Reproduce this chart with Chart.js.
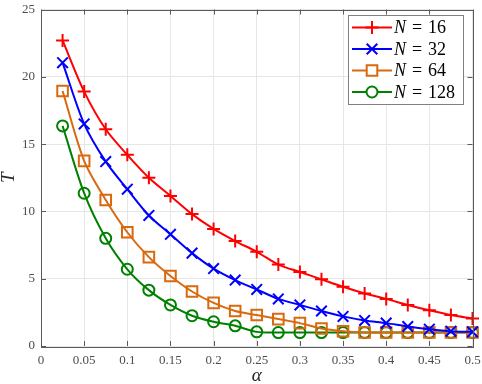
<!DOCTYPE html>
<html>
<head>
<meta charset="utf-8">
<script src="https://cdn.jsdelivr.net/npm/chart.js@4"></script>
<style>
  html, body { margin: 0; padding: 0; background: #fff; }
  #wrap { width: 482px; height: 384px; }
</style>
</head>
<body>
<div id="wrap"><canvas id="chart" width="482" height="384"></canvas></div>
<script>
// datos
const alpha = [0.025, 0.05, 0.075, 0.1, 0.125, 0.15, 0.175, 0.2, 0.225, 0.25,
               0.275, 0.3, 0.325, 0.35, 0.375, 0.4, 0.425, 0.45, 0.475, 0.5];
const t16  = [22.7, 18.9, 16.1, 14.2, 12.5, 11.15, 9.8, 8.7, 7.8, 7.0,
              6.05, 5.5, 4.95, 4.4, 3.9, 3.5, 3.05, 2.65, 2.3, 2.05];
const t32  = [21.05, 16.5, 13.7, 11.65, 9.7, 8.3, 6.9, 5.75, 4.9, 4.2,
              3.5, 3.05, 2.6, 2.2, 1.9, 1.7, 1.45, 1.25, 1.1, 1.05];
const t64  = [18.95, 13.75, 10.85, 8.45, 6.6, 5.2, 4.05, 3.2, 2.6, 2.3,
              2.0, 1.7, 1.3, 1.1, 1.0, 1.0, 1.0, 1.0, 1.0, 1.0];
const t128 = [16.35, 11.35, 8.0, 5.7, 4.15, 3.05, 2.25, 1.8, 1.5, 1.05,
              1.0, 1.0, 1.0, 1.0, 1.0, 1.0, 1.0, 1.0, 1.0, 1.0];
const seriesN = ['16', '32', '64', '128'];
const xTicks = [0, 0.05, 0.1, 0.15, 0.2, 0.25, 0.3, 0.35, 0.4, 0.45, 0.5];
const yTicks = [0, 5, 10, 15, 20, 25];

const serif = '"Liberation Serif", "DejaVu Serif", serif';

function serie(data, color, style, radius) {
  return {
    label: 'N = ',
    data: data.map((v, i) => ({ x: alpha[i], y: v })),
    borderColor: color,
    backgroundColor: 'rgba(0,0,0,0)',
    pointBorderColor: color,
    pointBackgroundColor: 'rgba(0,0,0,0)',
    pointStyle: style,
    pointRadius: radius,
    pointBorderWidth: 2,
    borderWidth: 2,
    tension: 0.3,
    clip: false
  };
}

const datasets = [
  serie(t16, '#ff0000', 'cross', 6.5),
  serie(t32, '#0000ff', 'crossRot', 7.5),
  serie(t64, '#d9690e', 'rect', 7.5),
  serie(t128, '#008000', 'circle', 5.5)
];

// caja, marcas hacia dentro, leyenda y titulos
const extras = {
  id: 'extras',
  afterDraw(chart) {
    const ctx = chart.ctx;
    const a = chart.chartArea;
    const xs = chart.scales.x, ys = chart.scales.y;
    ctx.save();
    ctx.strokeStyle = '#5a5a5a';
    ctx.lineWidth = 1;
    ctx.beginPath();
    xTicks.forEach(v => {
      const px = Math.round(xs.getPixelForValue(v)) + 0.5;
      ctx.moveTo(px, a.bottom); ctx.lineTo(px, a.bottom - 5);
      ctx.moveTo(px, a.top); ctx.lineTo(px, a.top + 5);
    });
    yTicks.forEach(v => {
      const py = Math.round(ys.getPixelForValue(v)) + 0.5;
      ctx.moveTo(a.left, py); ctx.lineTo(a.left + 5, py);
      ctx.moveTo(a.right, py); ctx.lineTo(a.right - 5, py);
    });
    ctx.stroke();
    ctx.strokeRect(Math.round(a.left) + 0.5, Math.round(a.top) + 0.5,
                   Math.round(a.right - a.left), Math.round(a.bottom - a.top));

    // leyenda
    const lx = 348, ly = 15, lw = 115, lh = 89;
    ctx.fillStyle = '#fff';
    ctx.fillRect(lx, ly, lw, lh);
    ctx.strokeStyle = '#808080';
    ctx.strokeRect(lx + 0.5, ly + 0.5, lw, lh);
    const rows = [27.5, 49, 70.5, 92];
    datasets.forEach((ds, i) => {
      const y = rows[i];
      ctx.strokeStyle = ds.borderColor;
      ctx.lineWidth = 2;
      ctx.beginPath();
      ctx.moveTo(352, y); ctx.lineTo(392, y);
      ctx.stroke();
      ctx.fillStyle = '#fff';
      Chart.helpers.drawPoint(ctx, {
        pointStyle: ds.pointStyle, radius: ds.pointRadius, borderWidth: 2
      }, 372, y);
      ctx.fillStyle = '#000';
      ctx.textBaseline = 'middle';
      ctx.textAlign = 'left';
      ctx.font = 'italic 18px ' + serif;
      ctx.fillText('N', 394, y + 1);
      ctx.font = '18px ' + serif;
      ctx.fillText('=', 412, y + 1);
      ctx.fillText(seriesN[i], 428, y + 1);
    });

    // titulos de ejes
    ctx.fillStyle = '#262626';
    ctx.font = 'italic 19px ' + serif;
    ctx.textAlign = 'center';
    ctx.textBaseline = 'middle';
    ctx.fillText('\u03b1', (a.left + a.right) / 2, 376);
    ctx.translate(9, (a.top + a.bottom) / 2);
    ctx.rotate(-Math.PI / 2);
    ctx.fillText('T', 0, 0);
    ctx.restore();
  }
};

new Chart(document.getElementById('chart'), {
  type: 'line',
  data: { datasets: datasets },
  options: {
    responsive: false,
    animation: false,
    layout: { padding: { top: 5, right: 8, left: 0, bottom: 0 } },
    plugins: { legend: { display: false }, tooltip: { enabled: false } },
    scales: {
      x: {
        type: 'linear', min: 0, max: 0.5,
        afterBuildTicks: s => { s.ticks = xTicks.map(v => ({ value: v })); },
        afterFit: s => { s.height = 38; s.paddingLeft = 0; s.paddingRight = 0; },
        grid: { color: '#e6e6e6', lineWidth: 1, drawTicks: false },
        border: { display: false },
        ticks: {
          padding: 7, color: '#4d4d4d', maxRotation: 0, autoSkip: false,
          font: { family: serif, size: 13 },
          callback: v => String(Number(v.toFixed(2)))
        }
      },
      y: {
        min: 0, max: 25,
        afterBuildTicks: s => { s.ticks = yTicks.map(v => ({ value: v })); },
        afterFit: s => { s.width = 41; s.paddingTop = 0; s.paddingBottom = 0; },
        grid: { color: '#e6e6e6', lineWidth: 1, drawTicks: false },
        border: { display: false },
        ticks: {
          padding: 6, color: '#4d4d4d',
          font: { family: serif, size: 13 }
        }
      }
    }
  },
  plugins: [extras]
});
</script>
</body>
</html>
